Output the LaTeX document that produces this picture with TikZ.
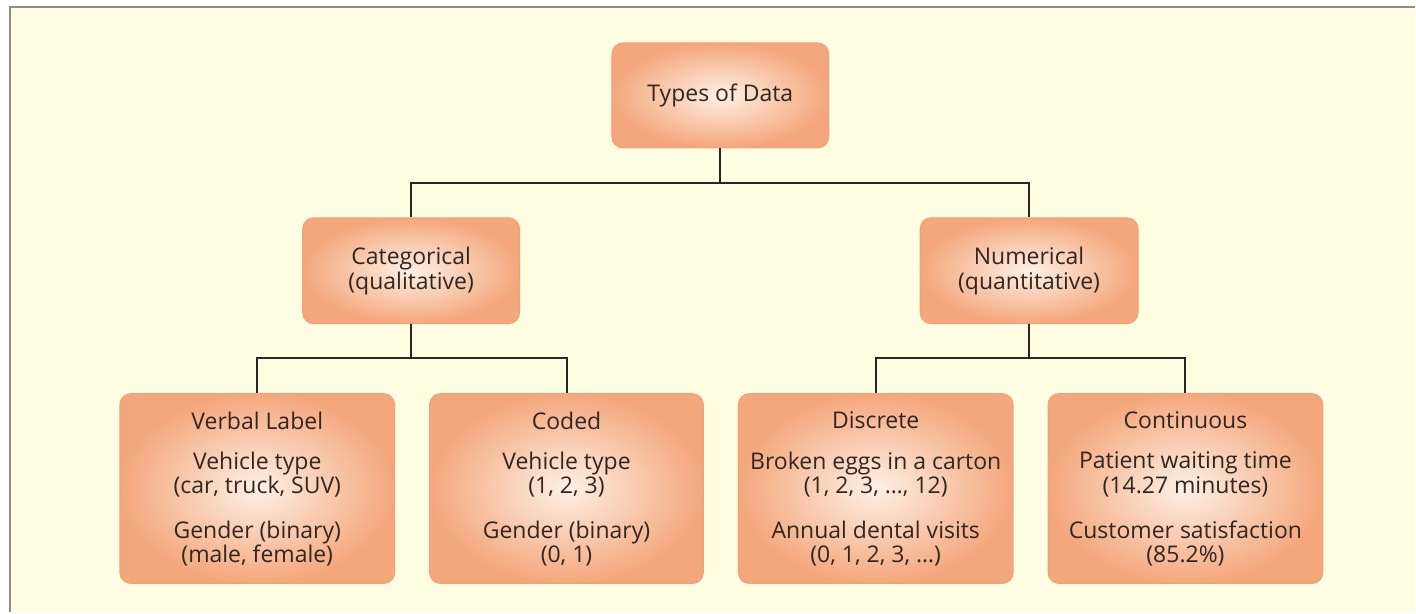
\documentclass[tikz,border=0pt]{standalone}
\usepackage{fontspec}
\setmainfont{Open Sans}
\definecolor{bg}{HTML}{FEFCE1}
\definecolor{frame}{HTML}{8C8C88}
\definecolor{boxout}{HTML}{F4A77C}
\definecolor{boxin}{HTML}{FDF0E6}
\definecolor{boxline}{HTML}{EFA378}
\definecolor{txt}{HTML}{33261F}
\tikzset{
  databox/.style={draw=boxline, line width=1pt, rounded corners=11pt,
    inner color=boxin, outer color=boxout, text=txt, align=center,
    font=\fontsize{23}{25}\selectfont},
  conn/.style={draw=black!85, line width=2pt},
  lbl/.style={text=txt, align=center, font=\fontsize{23}{24.5}\selectfont}
}
\begin{document}
\begin{tikzpicture}[x=1pt,y=-1pt]
\fill[white] (0,0) rectangle (1416,613);
\fill[bg] (10,7) rectangle (1416,613);
\draw[frame, line width=2.5pt] (10,613) -- (10,7) -- (1416,7);
\useasboundingbox (0,0) rectangle (1416,613);

\node[databox, minimum width=217pt, minimum height=105pt] (top) at (721,95.5) {Types of Data};
\node[databox, minimum width=217pt, minimum height=106pt] (cat) at (411.5,271) {Categorical\\(qualitative)};
\node[databox, minimum width=218pt, minimum height=106pt] (num) at (1030,271) {Numerical\\(quantitative)};

\node[databox, minimum width=275pt, minimum height=190pt] (verb) at (257.5,489) {};
\node[databox, minimum width=274pt, minimum height=190pt] (code) at (567,489) {};
\node[databox, minimum width=275pt, minimum height=190pt] (disc) at (876.5,489) {};
\node[databox, minimum width=275pt, minimum height=190pt] (cont) at (1186.5,489) {};

\node[lbl] (verbA) at (257.5,421) {Verbal Label};
\node[lbl] (verbB) at (257.5,475) {Vehicle type\\(car, truck, SUV)};
\node[lbl] (verbC) at (257.5,544) {Gender (binary)\\(male, female)};
\node[lbl] (codeA) at (567,421) {Coded};
\node[lbl] (codeB) at (567,475) {Vehicle type\\(1, 2, 3)};
\node[lbl] (codeC) at (567,544) {Gender (binary)\\(0, 1)};
\node[lbl] (discA) at (876.5,421) {Discrete};
\node[lbl] (discB) at (876.5,475) {Broken eggs in a carton\\(1, 2, 3, \ldots, 12)};
\node[lbl] (discC) at (876.5,544) {Annual dental visits\\(0, 1, 2, 3, \ldots)};
\node[lbl] (contA) at (1186.5,421) {Continuous};
\node[lbl] (contB) at (1186.5,475) {Patient waiting time\\(14.27 minutes)};
\node[lbl] (contC) at (1186.5,544) {Customer satisfaction\\(85.2\%)};

\draw[conn] (top.south) -- ++(0,35) -| (cat.north);
\draw[conn] (top.south) -- ++(0,35) -| (num.north);
\draw[conn] (cat.south) -- ++(0,34) -| (verb.north);
\draw[conn] (cat.south) -- ++(0,34) -| (code.north);
\draw[conn] (num.south) -- ++(0,34) -| (disc.north);
\draw[conn] (num.south) -- ++(0,34) -| (cont.north);
\end{tikzpicture}
\end{document}
